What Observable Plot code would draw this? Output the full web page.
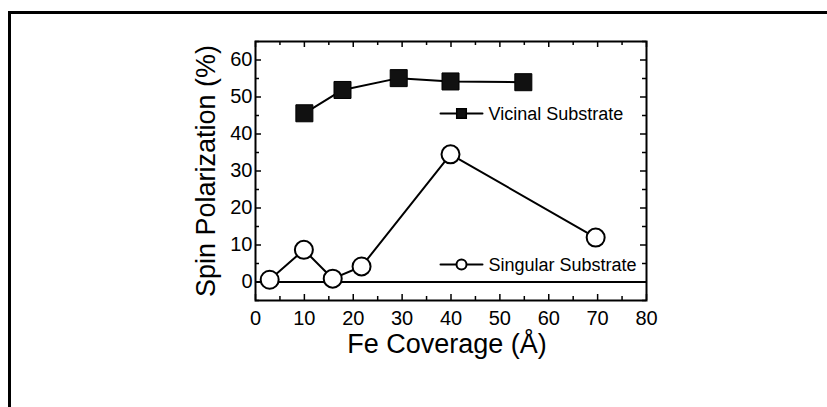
<!DOCTYPE html>
<html><head><meta charset="utf-8">
<script src="https://cdn.jsdelivr.net/npm/d3@7"></script>
<script src="https://cdn.jsdelivr.net/npm/@observablehq/plot@0.6"></script>
<style>
html,body{margin:0;padding:0;background:#fff;overflow:hidden;width:827px;height:407px}
#box{position:absolute;left:8px;top:11px;width:900px;height:500px;border:3px solid #000;box-sizing:border-box}
#chart{position:absolute;left:0;top:0}
#chart svg{background:transparent !important}
</style></head><body><div id="box"></div><div id="chart"></div>
<script>
// Data
const coverageVicinal = [10, 17.8, 29.3, 39.9, 54.8];
const polarizationVicinal = [45.6, 51.9, 55.1, 54.2, 54.0];
const coverageSingular = [2.9, 9.9, 15.8, 21.7, 39.9, 69.6];
const polarizationSingular = [0.6, 8.7, 0.9, 4.2, 34.5, 12.0];
const xTickLabels = [0, 10, 20, 30, 40, 50, 60, 70, 80];
const xMinorTicks = [5, 15, 25, 35, 45, 55, 65, 75];
const yTickLabels = [0, 10, 20, 30, 40, 50, 60];
const yMinorTicks = [-5, 5, 15, 25, 35, 45, 55, 65];
const seriesNames = ["Vicinal Substrate", "Singular Substrate"];
const xLabel = ["Fe Coverage (Å)"];
const yLabel = ["Spin Polarization (%)"];

const vicinal = coverageVicinal.map((x, i) => ({x, y: polarizationVicinal[i]}));
const singular = coverageSingular.map((x, i) => ({x, y: polarizationSingular[i]}));

const W = 827, H = 407, mL = 255, mR = 181, mT = 41, mB = 107;
const fW = W - mL - mR, fH = H - mT - mB;
const seg = {draw(ctx, l) { ctx.moveTo(0, 0); ctx.lineTo(0, -l); }};

const chart = Plot.plot({
  width: W, height: H,
  marginLeft: mL, marginRight: mR, marginTop: mT, marginBottom: mB,
  style: {fontFamily: "'Liberation Sans', Arial, sans-serif", background: "transparent", color: "black", overflow: "visible"},
  x: {domain: [0, 80]},
  y: {domain: [-5, 65]},
  marks: [
    Plot.ruleY([0], {stroke: "black", strokeWidth: 2}),
    // inward ticks
    Plot.ruleX(xTickLabels, {insetTop: fH - 6, stroke: "black", strokeWidth: 1.5}),
    Plot.ruleX(xTickLabels, {insetBottom: fH - 6, stroke: "black", strokeWidth: 1.5}),
    Plot.ruleX(xMinorTicks, {insetTop: fH - 4, stroke: "black", strokeWidth: 1.5}),
    Plot.ruleX(xMinorTicks, {insetBottom: fH - 4, stroke: "black", strokeWidth: 1.5}),
    Plot.ruleY(yTickLabels, {insetRight: fW - 6, stroke: "black", strokeWidth: 1.5}),
    Plot.ruleY(yTickLabels, {insetLeft: fW - 6, stroke: "black", strokeWidth: 1.5}),
    Plot.ruleY(yMinorTicks, {insetRight: fW - 4, stroke: "black", strokeWidth: 1.5}),
    Plot.ruleY(yMinorTicks, {insetLeft: fW - 4, stroke: "black", strokeWidth: 1.5}),
    Plot.frame({stroke: "black", strokeWidth: 2}),
    Plot.axisX(xTickLabels, {tickSize: 0, tickPadding: 10, fontSize: 20, label: null}),
    Plot.axisY(yTickLabels, {tickSize: 0, tickPadding: 3, fontSize: 20, label: null}),
    Plot.text(xLabel, {frameAnchor: "bottom", dy: 44, dx: -4, lineAnchor: "middle", textAnchor: "middle", fontSize: 27, fill: "black"}),
    Plot.text(yLabel, {frameAnchor: "left", dx: -49, rotate: -90, lineAnchor: "middle", textAnchor: "middle", fontSize: 27, fill: "black"}),
    // series
    Plot.line(vicinal, {x: "x", y: "y", stroke: "black", strokeWidth: 2}),
    Plot.dot(vicinal, {x: "x", y: "y", symbol: "square", r: 9.6, fill: "#111", stroke: "black", strokeWidth: 1}),
    Plot.line(singular, {x: "x", y: "y", stroke: "black", strokeWidth: 2}),
    Plot.dot(singular, {x: "x", y: "y", r: 9, fill: "white", stroke: "black", strokeWidth: 2}),
    // legend
    Plot.vector([seriesNames[0]], {frameAnchor: "top-left", dx: 206, dy: 72, rotate: 90, length: 42, anchor: "middle", shape: seg, stroke: "black", strokeWidth: 2}),
    Plot.dot([seriesNames[0]], {frameAnchor: "top-left", dx: 206, dy: 72, symbol: "square", r: 5.4, fill: "#111", stroke: "black"}),
    Plot.text([seriesNames[0]], {frameAnchor: "top-left", dx: 233, dy: 73, text: d => d, textAnchor: "start", lineAnchor: "middle", fontSize: 18, fill: "black"}),
    Plot.vector([seriesNames[1]], {frameAnchor: "top-left", dx: 206, dy: 223, rotate: 90, length: 42, anchor: "middle", shape: seg, stroke: "black", strokeWidth: 2}),
    Plot.dot([seriesNames[1]], {frameAnchor: "top-left", dx: 206, dy: 223, r: 5, fill: "white", stroke: "black", strokeWidth: 2}),
    Plot.text([seriesNames[1]], {frameAnchor: "top-left", dx: 233, dy: 224, text: d => d, textAnchor: "start", lineAnchor: "middle", fontSize: 18, fill: "black"})
  ]
});
document.getElementById("chart").append(chart);
</script></body></html>
